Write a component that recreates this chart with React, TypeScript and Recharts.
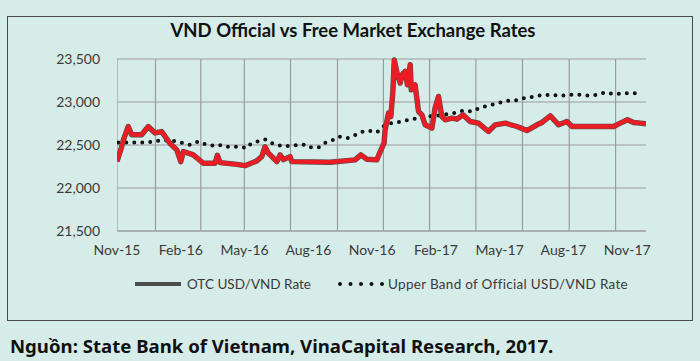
import React from "react";
import { LineChart, Line, XAxis, YAxis, CartesianGrid } from "recharts";

// Months since Nov-2015 (x position) and rates
const otcMonths = [0, 0.22, 0.3, 0.53, 0.69, 1.16, 1.47, 1.79, 2.1, 2.49, 2.81, 3.0, 3.12, 3.59, 4.06, 4.61, 4.72, 4.85, 5.63, 6.02, 6.57, 6.81, 6.96, 7.12, 7.52, 7.67, 7.83, 8.14, 8.22, 10.02, 11.2, 11.47, 11.75, 12.22, 12.38, 12.56, 12.61, 12.77, 12.88, 12.97, 13.04, 13.19, 13.32, 13.4, 13.55, 13.66, 13.79, 13.84, 14.02, 14.18, 14.34, 14.49, 14.81, 14.96, 15.12, 15.28, 15.44, 15.75, 15.99, 16.27, 16.61, 17.0, 17.47, 17.79, 18.26, 18.81, 19.28, 19.75, 19.99, 20.38, 20.77, 21.16, 21.4, 23.36, 23.67, 24.01, 24.3, 24.61, 24.88];
const otcRates = [22310, 22480, 22560, 22715, 22620, 22620, 22715, 22640, 22656, 22520, 22443, 22307, 22424, 22385, 22288, 22288, 22380, 22295, 22275, 22260, 22315, 22365, 22480, 22405, 22307, 22385, 22330, 22365, 22307, 22300, 22327, 22385, 22335, 22327, 22424, 22521, 22676, 22871, 22830, 23104, 23490, 23317, 23220, 23317, 23356, 23200, 23434, 23142, 23200, 22890, 22851, 22735, 22696, 22929, 23065, 22831, 22793, 22813, 22800, 22851, 22773, 22754, 22657, 22735, 22754, 22715, 22668, 22735, 22762, 22839, 22735, 22773, 22715, 22715, 22754, 22793, 22762, 22754, 22746];

const bandMonths = [0.06, 0.42, 0.93, 1.4, 1.94, 2.57, 2.96, 3.44, 3.83, 4.19, 4.46, 4.75, 5.08, 5.79, 6.1, 6.29, 6.65, 7.01, 7.36, 7.75, 8.14, 8.53, 8.89, 9.16, 9.52, 9.84, 10.18, 10.46, 10.84, 11.2, 11.48, 11.83, 12.22, 12.52, 12.88, 13.16, 13.52, 13.92, 14.26, 14.65, 15.04, 15.39, 15.83, 16.3, 16.69, 17.12, 17.52, 17.94, 18.31, 18.73, 19.15, 19.56, 19.99, 20.41, 20.85, 21.28, 21.69, 22.15, 22.57, 22.96, 23.39, 23.8, 24.22, 24.61];
const bandRates = [22528, 22528, 22528, 22528, 22550, 22552, 22530, 22502, 22540, 22505, 22494, 22505, 22480, 22480, 22463, 22513, 22545, 22565, 22513, 22488, 22490, 22502, 22505, 22468, 22475, 22535, 22560, 22598, 22580, 22615, 22650, 22667, 22645, 22715, 22754, 22762, 22781, 22801, 22815, 22831, 22839, 22855, 22871, 22900, 22890, 22937, 22960, 22987, 23014, 23016, 23046, 23060, 23080, 23084, 23070, 23084, 23084, 23075, 23084, 23112, 23092, 23100, 23102, 23100];

const gridMonths = [0, 1.81, 3.94, 5.99, 8.16, 10.37, 12.53, 14.7, 16.88, 19.07, 21.27, 23.45];
const tickMonths = [0, 3, 6, 9, 12, 15, 18, 21, 24];
const tickLabels = ["Nov-15", "Feb-16", "May-16", "Aug-16", "Nov-16", "Feb-17", "May-17", "Aug-17", "Nov-17"];
const yTicks = [21500, 22000, 22500, 23000, 23500];

const Y_DOMAIN: [number, number] = [21500, 23500];
const X_DOMAIN: [number, number] = [0, 24.88];

const otcData = otcMonths.map((t, i) => ({ t, v: otcRates[i] }));
const bandData = bandMonths.map((t, i) => ({ t, v: bandRates[i] }));
const gridData = gridMonths.map((m) => [
  { t: m, v: Y_DOMAIN[0] },
  { t: m, v: Y_DOMAIN[1] },
]);

const FONT = "Lato, 'Noto Sans', sans-serif";
const BG = "#d6ece8";
const GRID = "#9c9c9c";

export default function App() {
  return (
    <div style={{ position: "absolute", left: 0, top: 0, width: 700, height: 361, background: BG, fontFamily: FONT, overflow: "hidden" }}>
      <div style={{ position: "absolute", left: 7, top: 16, width: 684, height: 303, border: "1.5px solid #4a4a4a" }} />
      <div style={{ position: "absolute", left: 0, top: 19, width: 706, textAlign: "center", fontSize: 18.5, fontWeight: 700, color: "#111" }}>
        VND Official vs Free Market Exchange Rates
      </div>
      <div style={{ position: "absolute", left: 0, top: 0 }}>
        <LineChart width={700} height={361} margin={{ top: 59, right: 54, bottom: 100, left: 0 }}>
          <CartesianGrid vertical={false} stroke={GRID} strokeWidth={1.2} />
          <XAxis
            dataKey="t"
            type="number"
            domain={X_DOMAIN}
            ticks={tickMonths}
            height={30}
            tickFormatter={(v: number) => tickLabels[tickMonths.indexOf(v)] ?? ""}
            axisLine={{ stroke: GRID, strokeWidth: 1.2 }}
            tickLine={false}
            tickSize={0}
            tickMargin={14}
            tick={{ fill: "#3a3a3a", fontSize: 14, fontFamily: FONT }}
            allowDataOverflow
          />
          <YAxis
            type="number"
            domain={Y_DOMAIN}
            ticks={yTicks}
            width={117}
            axisLine={false}
            tickLine={false}
            tickSize={0}
            tickMargin={17}
            tickFormatter={(v: number) => v.toLocaleString("en-US")}
            tick={{ fill: "#3a3a3a", fontSize: 14, fontFamily: FONT }}
          />
          {gridData.map((d, i) => (
            <Line key={"g" + i} data={d} dataKey="v" type="linear" stroke={GRID} strokeWidth={1.2} dot={false} activeDot={false} legendType="none" isAnimationActive={false} />
          ))}
          <Line data={bandData} dataKey="v" type="linear" stroke="#111" strokeWidth={4} strokeDasharray="0 8" strokeLinecap="round" dot={false} activeDot={false} isAnimationActive={false} />
          <Line data={otcData} dataKey="v" type="linear" stroke="#4d4d4d" strokeWidth={5.4} strokeLinejoin="round" dot={false} activeDot={false} isAnimationActive={false} />
          <Line data={otcData} dataKey="v" type="linear" stroke="#ec1c24" strokeWidth={4.3} strokeLinejoin="round" dot={false} activeDot={false} isAnimationActive={false} />
        </LineChart>
      </div>
      <div style={{ position: "absolute", left: 135, top: 276, display: "flex", alignItems: "center", fontSize: 13.5, color: "#3a3a3a", whiteSpace: "nowrap" }}>
        <svg width={46} height={10} style={{ marginRight: 6 }}>
          <line x1={0} y1={5} x2={46} y2={5} stroke="#4d4d4d" strokeWidth={4} />
        </svg>
        <span>OTC USD/VND Rate</span>
        <svg width={48} height={10} style={{ marginLeft: 26, marginRight: 3 }}>
          {[0, 1, 2, 3, 4].map((i) => (
            <circle key={i} cx={3 + i * 10.5} cy={5} r={2} fill="#111" />
          ))}
        </svg>
        <span style={{ letterSpacing: 0.3 }}>Upper Band of Official USD/VND Rate</span>
      </div>
      <div style={{ position: "absolute", left: 10, top: 333, fontSize: 18.6, fontWeight: 700, color: "#111", fontFamily: "'Noto Sans', sans-serif", whiteSpace: "nowrap" }}>
        Nguồn: State Bank of Vietnam, VinaCapital Research, 2017.
      </div>
    </div>
  );
}
